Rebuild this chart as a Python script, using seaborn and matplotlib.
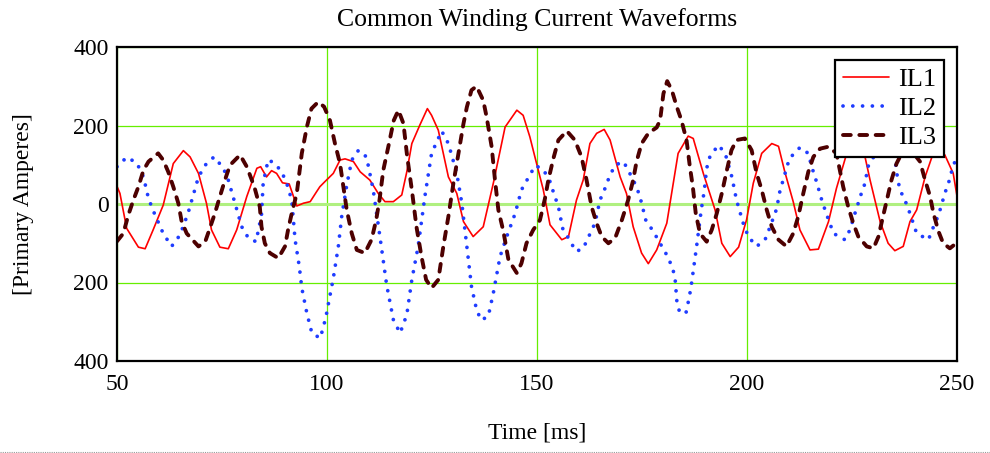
import matplotlib
matplotlib.use('Agg')
import matplotlib.pyplot as plt
import seaborn as sns

# Courants (temps en ms, courant en A)
t_il1 = [50, 50.7, 52.3, 55.1, 56.7, 58.6, 61.0, 63.4, 65.8, 67.4, 69.4, 71.3, 72.5, 74.5,
         76.5, 78.5, 80.9, 83.3, 84.2, 85.6, 86.8, 88.0, 89.4, 91.0, 92.8, 94.4, 96.0, 97.5,
         98.3, 99.5, 101.5, 103.1, 104.3, 106.3, 107.9, 110.2, 112.2, 113.8, 115.8, 117.8,
         119.0, 120.2, 122.1, 123.9, 124.9, 126.5, 128.9, 130.9, 132.5, 134.8, 137.2, 139.6,
         142.4, 145.2, 146.7, 148.3, 149.5, 151.5, 153.1, 155.9, 157.5, 159.4, 161.0, 162.6,
         164.2, 166.0, 167.4, 169.8, 171.3, 172.9, 174.9, 176.5, 178.5, 180.9, 183.6, 186.0,
         187.2, 189.6, 192.4, 194.0, 196.0, 198.0, 199.9, 201.5, 203.5, 205.9, 207.5, 209.0,
         211.0, 212.6, 215.0, 217.0, 219.4, 221.3, 223.5, 226.0, 228.1, 229.3, 231.7, 233.6,
         235.2, 237.2, 238.8, 240.4, 242.4, 245.0, 247.1, 249.1, 250.0]
il1 = [45, 27, -62, -110, -114, -66, -3, 103, 136, 120, 78, 2, -66, -110,
       -114, -66, 19, 91, 95, 69, 85, 78, 54, 51, -5, 2, 6, 31,
       44, 57, 78, 112, 115, 108, 82, 61, 27, 6, 6, 23,
       82, 154, 201, 243, 226, 188, 69, 27, -45, -83, -58, 53,
       196, 239, 226, 171, 120, 36, -53, -91, -83, 10, 61, 154,
       180, 190, 163, 69, 27, -58, -125, -152, -117, -49, 129, 173,
       167, 78, -15, -100, -134, -110, -40, 53, 129, 154, 147, 82,
       6, -66, -117, -115, -45, 40, 120, 155, 120, 61, -45, -100,
       -119, -108, -45, -15, 69, 150, 125, 78, 20]

t_il2 = [50, 52.3, 54.7, 56.3, 57.5, 58.7, 61.0, 63.0, 65.0, 66.9, 69.4, 71.0, 73.1, 75.3,
         76.5, 78.1, 79.7, 81.3, 83.1, 84.4, 84.8, 86.0, 87.6, 89.2, 90.4, 91.6, 92.4, 93.4,
         94.0, 95.2, 96.4, 98.4, 99.7, 101.5, 102.7, 103.5, 104.7, 105.9, 107.5, 109.4, 111.0,
         112.6, 114.2, 115.8, 117.4, 119.0, 120.2, 121.7, 123.3, 124.9, 127.3, 128.9, 130.9,
         132.1, 133.3, 134.4, 135.6, 136.7, 138.4, 139.6, 141.2, 142.8, 144.8, 146.3, 148.3,
         149.6, 151.5, 153.1, 154.0, 155.1, 156.1, 157.7, 159.3, 161.0, 162.5, 163.8, 165.0,
         166.2, 167.2, 168.6, 170.6, 172.1, 173.6, 174.5, 175.9, 177.7, 179.3, 180.9, 182.3,
         182.9, 183.3, 184.0, 185.5, 186.3, 186.8, 187.5, 188.0, 188.6, 189.0, 189.4, 189.8,
         190.4, 191.2, 193.2, 194.8, 196.4, 197.5, 199.1, 200.3, 202.3, 204.3, 205.5, 207.1,
         207.7, 208.6, 210.1, 212.6, 214.6, 215.4, 216.2, 217.0, 217.8, 218.8, 220.6, 223.3,
         224.5, 225.7, 227.1, 228.1, 228.8, 231.5, 234.5, 235.2, 235.8, 236.4, 237.6, 238.8,
         240.4, 243.2, 244.4, 245.6, 246.3, 247.1, 248.2, 249.0, 250.0]
il2 = [95, 119, 105, 69, 14, -19, -75, -108, -79, -24, 69, 99, 120, 92,
       61, 2, -58, -87, -96, -28, 53, 113, 103, 82, 53, 10, -91, -159,
       -214, -278, -329, -342, -290, -189, -108, -32, 48, 112, 137, 120, 36,
       -83, -206, -295, -329, -282, -193, -108, 19, 129, 186, 154, 78,
       2, -108, -210, -269, -296, -286, -227, -134, -83, -24, 36, 74,
       98, 88, 57, 27, -7, -62, -91, -121, -113, -79, -49, 10,
       40, 69, 99, 108, 78, 46, 19, -41, -70, -100, -130, -163,
       -193, -248, -278, -276, -235, -202, -147, -108, -58, -24, 6, 31,
       91, 122, 150, 129, 69, 10, -49, -83, -108, -91, -58, -11,
       27, 61, 116, 144, 129, 95, 69, 40, 10, -22, -75, -91,
       -66, -24, 23, 53, 95, 145, 130, 116, 69, 36, 10, -24,
       -75, -91, -58, -28, -3, 27, 61, 95, 120]

t_il3 = [50, 51.5, 52.7, 53.9, 55.1, 56.3, 57.5, 59.8, 61.0, 62.2, 63.4, 64.6, 65.4, 66.6,
         69.4, 71.0, 72.1, 73.3, 74.5, 75.7, 76.9, 79.3, 80.9, 82.1, 82.9, 84.0, 84.4, 85.2,
         86.4, 88.4, 90.0, 90.8, 91.6, 92.8, 94.0, 95.2, 96.3, 97.9, 99.3, 100.7, 101.9, 103.1,
         103.9, 104.7, 105.9, 107.1, 109.0, 110.6, 111.7, 112.5, 113.4, 114.6, 115.9, 117.0,
         118.2, 119.1, 120.2, 121.3, 122.5, 123.6, 124.9, 126.5, 127.7, 128.9, 130.1, 131.3,
         132.5, 133.3, 134.4, 135.6, 137.2, 138.0, 139.2, 140.0, 140.8, 142.0, 143.2, 145.2,
         146.3, 147.5, 149.1, 150.7, 151.9, 152.7, 153.9, 155.1, 157.1, 159.0, 160.6, 161.8,
         163.0, 164.2, 165.4, 167.0, 168.6, 170.2, 171.7, 172.9, 173.7, 174.9, 176.5, 178.5,
         179.3, 179.7, 180.1, 181.0, 182.1, 183.3, 184.4, 185.6, 186.4, 187.1, 187.8, 188.8,
         190.4, 191.6, 192.8, 194.0, 195.2, 196.3, 197.5, 199.5, 201.1, 202.3, 203.5, 204.7,
         205.9, 207.5, 209.4, 211.0, 212.2, 213.4, 214.6, 215.8, 217.4, 219.4, 221.3, 222.1,
         222.9, 224.1, 225.3, 226.5, 228.5, 230.1, 231.3, 232.1, 233.3, 234.4, 235.6, 236.4,
         238.5, 241.2, 242.4, 243.6, 244.4, 245.6, 246.7, 248.3, 249.8, 250.0]
il3 = [-95, -75, -28, 10, 44, 86, 108, 129, 112, 82, 44, 2, -45, -75,
       -108, -96, -62, -24, 19, 61, 99, 125, 95, 61, 36, -7, -58, -100,
       -125, -138, -108, -62, -24, 27, 129, 196, 243, 260, 248, 213, 154, 103,
       44, -15, -75, -117, -125, -91, -41, 10, 86, 146, 213, 239,
       205, 120, 36, -58, -134, -193, -214, -193, -108, -32, 53, 129,
       205, 247, 290, 300, 264, 222, 146, 61, -15, -70, -142, -176,
       -151, -100, -66, -41, 14, 61, 116, 163, 186, 163, 120, 61,
       -7, -49, -83, -100, -87, -41, 10, 61, 108, 154, 180, 195,
       213, 247, 281, 313, 290, 247, 213, 163, 95, 44, -24, -75,
       -96, -66, -24, 27, 86, 137, 163, 167, 137, 78, 36, -15,
       -58, -91, -108, -75, -32, 27, 82, 120, 141, 146, 129, 86,
       44, -7, -49, -83, -108, -113, -83, -45, 10, 61, 103, 120,
       145, 108, 61, 19, -24, -70, -100, -113, -100, -95]

x_ticks = [50, 100, 150, 200, 250]
y_ticks = [-400, -200, 0, 200, 400]
y_tick_labels = ['400', '200', '0', '200', '400']

sns.set_style('white')
plt.rcParams['font.family'] = ['Liberation Serif', 'DejaVu Serif']
plt.rcParams['text.color'] = 'black'
plt.rcParams['axes.labelcolor'] = 'black'

fig = plt.figure(figsize=(9.9, 4.53), dpi=100)
ax = fig.add_axes([117 / 990, 1 - 361 / 453, 840 / 990, 314 / 453])

sns.lineplot(x=t_il1, y=il1, ax=ax, color='#ff0000', linewidth=1.2,
             label='IL1', errorbar=None, zorder=3)
sns.lineplot(x=t_il2, y=il2, ax=ax, color='#1f3cff', linewidth=2.7,
             linestyle=(0, (0.01, 2.6)), dash_capstyle='round',
             label='IL2', errorbar=None, zorder=3)
sns.lineplot(x=t_il3, y=il3, ax=ax, color='#4d0000', linewidth=2.8,
             linestyle=(0, (2.0, 2.2)), dash_capstyle='round',
             label='IL3', errorbar=None, zorder=3)

ax.set_xlim(50, 250)
ax.set_ylim(-400, 400)
ax.set_xticks(x_ticks)
ax.set_yticks(y_ticks)
ax.set_yticklabels(y_tick_labels)
ax.tick_params(length=0, labelsize=17, pad=6, labelcolor='black')
ax.tick_params(axis='x', pad=9)

ax.grid(True, color='#66ee00', linewidth=0.9, zorder=1)
ax.set_axisbelow(True)
# ligne du zéro plus claire et plus épaisse
for gl, yv in zip(ax.get_ygridlines(), y_ticks):
    if yv == 0:
        gl.set_color('#b0f080')
        gl.set_linewidth(2.2)

for sp in ax.spines.values():
    sp.set_color('black')
    sp.set_linewidth(1.6)
    sp.set_zorder(5)

ax.set_title('Common Winding Current Waveforms', fontsize=18.5, pad=15)
ax.set_xlabel('Time [ms]', fontsize=17, labelpad=20)
ax.set_ylabel('[Primary Amperes]', fontsize=17, labelpad=28)

leg = ax.legend(loc='upper right', bbox_to_anchor=(0.985, 0.959), borderaxespad=0,
                fontsize=19, fancybox=False, framealpha=1, edgecolor='black',
                handlelength=1.75, handletextpad=0.35, borderpad=0.3, labelspacing=0.2)
leg.get_frame().set_linewidth(1.6)
leg.set_zorder(6)

# bordure pointillée en bas de l'image
fig.add_artist(plt.Line2D([0, 1], [0.003, 0.003], transform=fig.transFigure,
                          color='#999999', linewidth=0.8, linestyle=(0, (1, 1))))

fig.savefig('out.png', dpi=100)
